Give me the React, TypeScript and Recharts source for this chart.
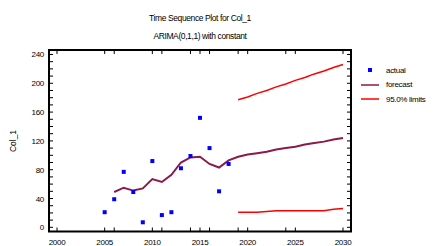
import React from "react";
import { ComposedChart, Line, Scatter, XAxis, YAxis, Legend, ReferenceArea } from "recharts";

const actualYears = [2005, 2006, 2007, 2008, 2009, 2010, 2011, 2012, 2013, 2014, 2015, 2016, 2017, 2018];
const actualValues = [21, 39, 77, 49, 7, 92, 17, 21, 82, 99, 152, 110, 50, 88];

const forecastYears = [
  2006, 2007, 2008, 2009, 2010, 2011, 2012, 2013, 2014, 2015, 2016, 2017, 2018,
  2019, 2020, 2021, 2022, 2023, 2024, 2025, 2026, 2027, 2028, 2029, 2030,
];
const forecastValues = [
  49, 55, 51, 54, 67, 63, 73, 90, 97, 98, 88, 83, 93,
  98, 101, 103, 105, 108, 110, 112, 115, 117, 119, 122, 124,
];

const limitYears = [2019, 2020, 2021, 2022, 2023, 2024, 2025, 2026, 2027, 2028, 2029, 2030];
const upperLimits = [177, 181, 186, 190, 195, 199, 204, 208, 213, 217, 222, 226];
const lowerLimits = [21, 21, 21, 22, 23, 23, 23, 23, 23, 23, 25, 26];

const xTicks = [2000, 2005, 2006, 2010, 2011, 2014, 2015, 2016, 2019, 2020, 2024, 2025, 2030];
const yTicks = [0, 10, 20, 30, 40, 50, 60, 70, 80, 90, 100, 110, 120, 130, 140, 150, 160, 170, 180, 190, 200, 210, 220, 230, 240];

const X_DOMAIN = [1999.16, 2030.84];
const Y_DOMAIN = [-5.8, 246.2];
const FONT = "'Liberation Sans', Arial, sans-serif";

// plot box edges (from the chart margins), used to mirror ticks on top/right
const PLOT_TOP = 50;
const PLOT_RIGHT = 351;

const actualData = actualYears.map((year, i) => ({ year, actual: actualValues[i] }));
const forecastData = forecastYears.map((year, i) => ({ year, forecast: forecastValues[i] }));
const limitData = limitYears.map((year, i) => ({ year, upper: upperLimits[i], lower: lowerLimits[i] }));

const BottomTick = (props: any) => {
  const { x, y, payload } = props;
  return (
    <g>
      <rect x={x - 0.5} y={y - 4} width={1} height={4} fill="#000" />
      <rect x={x - 0.5} y={PLOT_TOP} width={1} height={4} fill="#000" />
      {payload.value % 5 === 0 && (
        <text x={x} y={y + 13} textAnchor="middle" fontSize={8} fontFamily={FONT} fill="#000" letterSpacing={-0.3}>
          {payload.value}
        </text>
      )}
    </g>
  );
};

const LeftTick = (props: any) => {
  const { x, y, payload } = props;
  return (
    <g>
      <rect x={x} y={y - 0.5} width={4} height={1} fill="#000" />
      <rect x={PLOT_RIGHT - 4} y={y - 0.5} width={4} height={1} fill="#000" />
      {payload.value % 40 === 0 && (
        <text x={x - 5} y={y + 3} textAnchor="end" fontSize={8} fontFamily={FONT} fill="#000" letterSpacing={-0.3}>
          {payload.value}
        </text>
      )}
    </g>
  );
};

const Square = (props: any) => {
  const { cx, cy } = props;
  return <rect x={cx - 2} y={cy - 2} width={4} height={4} fill="#0000ff" />;
};

const legendItems = [
  { name: "actual", kind: "square", color: "#0000ff" },
  { name: "forecast", kind: "line", color: "#8b1a4b" },
  { name: "95.0% limits", kind: "line", color: "#ff0000" },
];

const LegendContent = () => (
  <div style={{ fontFamily: FONT, fontSize: 8, letterSpacing: -0.3 }}>
    {legendItems.map((item) => (
      <div key={item.name} style={{ display: "flex", alignItems: "center", height: 14.5 }}>
        <svg width={22} height={8} style={{ marginRight: 3 }}>
          {item.kind === "square" ? (
            <rect x={7} y={2} width={4} height={4} fill={item.color} />
          ) : (
            <rect x={0} y={3.25} width={18} height={1.5} fill={item.color} />
          )}
        </svg>
        <span>{item.name}</span>
      </div>
    ))}
  </div>
);

export default function App() {
  return (
    <div style={{ position: "absolute", left: 0, top: 0, width: 434, height: 246, background: "#fff" }}>
      <div style={{ position: "absolute", left: 0, width: 400, top: 13, textAlign: "center", fontFamily: FONT, fontSize: 8.5, letterSpacing: -0.4 }}>
        Time Sequence Plot for Col_1
      </div>
      <div style={{ position: "absolute", left: 0, width: 400, top: 31, textAlign: "center", fontFamily: FONT, fontSize: 8.5, letterSpacing: -0.4 }}>
        ARIMA(0,1,1) with constant
      </div>
      <div
        style={{
          position: "absolute",
          left: 13,
          top: 141,
          transform: "translate(-50%, -50%) rotate(-90deg)",
          fontFamily: FONT,
          fontSize: 8.5,
          whiteSpace: "nowrap",
        }}
      >
        Col_1
      </div>
      <ComposedChart width={434} height={246} margin={{ top: 50, right: 83, left: 0, bottom: 0 }}>
        <XAxis
          xAxisId="b"
          type="number"
          dataKey="year"
          domain={X_DOMAIN}
          ticks={xTicks}
          interval={0}
          height={14.5}
          tickSize={0}
          tickMargin={0}
          axisLine={false}
          tickLine={false}
          tick={<BottomTick />}
          allowDataOverflow
        />
        <YAxis
          yAxisId="l"
          type="number"
          domain={Y_DOMAIN}
          ticks={yTicks}
          interval={0}
          width={49}
          tickSize={0}
          tickMargin={0}
          axisLine={false}
          tickLine={false}
          tick={<LeftTick />}
          allowDataOverflow
        />
        <ReferenceArea
          xAxisId="b"
          yAxisId="l"
          x1={X_DOMAIN[0]}
          x2={X_DOMAIN[1]}
          y1={Y_DOMAIN[0]}
          y2={Y_DOMAIN[1]}
          fill="none"
          stroke="#000"
          strokeWidth={2}
          ifOverflow="visible"
        />
        <Line
          xAxisId="b"
          yAxisId="l"
          data={forecastData}
          dataKey="forecast"
          stroke="#8b1a4b"
          strokeWidth={2}
          dot={false}
          isAnimationActive={false}
        />
        <Line
          xAxisId="b"
          yAxisId="l"
          data={limitData}
          dataKey="upper"
          stroke="#ff0000"
          strokeWidth={1.5}
          dot={false}
          isAnimationActive={false}
        />
        <Line
          xAxisId="b"
          yAxisId="l"
          data={limitData}
          dataKey="lower"
          stroke="#ff0000"
          strokeWidth={1.5}
          dot={false}
          isAnimationActive={false}
        />
        <Scatter
          xAxisId="b"
          yAxisId="l"
          data={actualData}
          dataKey="actual"
          shape={<Square />}
          isAnimationActive={false}
        />
        <Legend
          layout="vertical"
          verticalAlign="middle"
          align="center"
          wrapperStyle={{ top: 63, left: 361, width: 73 }}
          content={<LegendContent />}
        />
      </ComposedChart>
    </div>
  );
}
